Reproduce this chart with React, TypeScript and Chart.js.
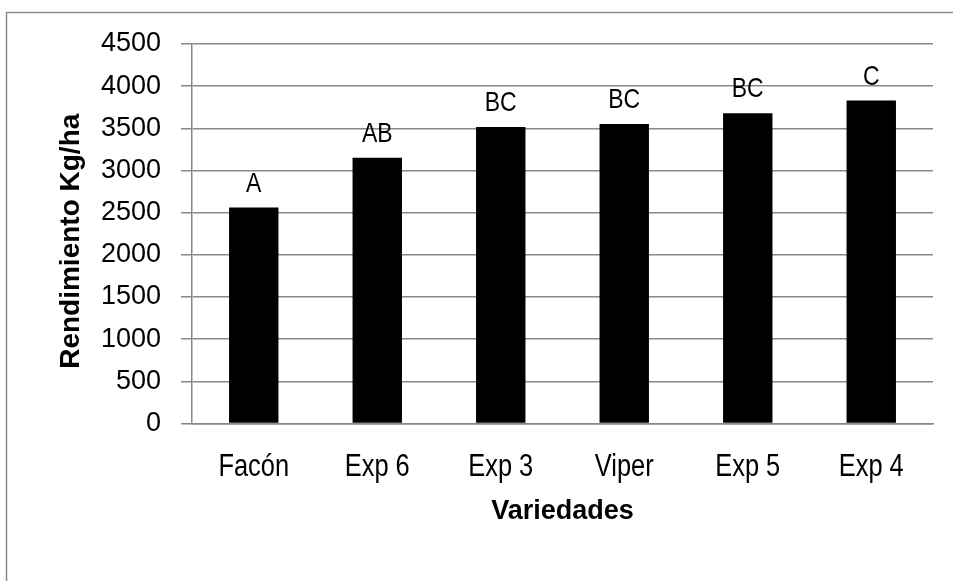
import React, { useEffect, useRef } from "react";
import { Chart, registerables } from "chart.js";

Chart.register(...registerables);

const categories = ["Facón", "Exp 6", "Exp 3", "Viper", "Exp 5", "Exp 4"];
const yields = [2560, 3150, 3515, 3550, 3680, 3830];
const letters = ["A", "AB", "BC", "BC", "BC", "C"];
const yMin = 0;
const yMax = 4500;
const yStep = 500;
const yTitle = "Rendimiento Kg/ha";
const xTitle = "Variedades";

const SANS = "'Liberation Sans', Arial, sans-serif";
const GRID = "#888888";
const NARROW_SCALE = 0.82;

function narrowText(ctx: any, text: string, x: number, y: number, size: number) {
  ctx.save();
  ctx.translate(x, y);
  ctx.scale(NARROW_SCALE, 1);
  ctx.font = `${size}px ${SANS}`;
  ctx.fillStyle = "#000";
  ctx.textAlign = "center";
  ctx.textBaseline = "alphabetic";
  ctx.fillText(text, 0, 0);
  ctx.restore();
}

const textPlugin = {
  id: "texts",
  afterDatasetsDraw(chart: any) {
    const ctx = chart.ctx;
    const meta = chart.getDatasetMeta(0);
    meta.data.forEach((bar: any, i: number) => {
      narrowText(ctx, letters[i], bar.x, bar.y - 16, 28);
    });
  },
  afterDraw(chart: any) {
    const ctx = chart.ctx;
    const xs = chart.scales.x;
    const ys = chart.scales.y;
    categories.forEach((c, i) => {
      narrowText(ctx, c, xs.getPixelForValue(i), xs.top + 52.5, 31);
    });
    ctx.save();
    ctx.translate(71.5, (ys.top + ys.bottom) / 2 + 7.5);
    ctx.rotate(-Math.PI / 2);
    ctx.font = `bold 28px ${SANS}`;
    ctx.fillStyle = "#000";
    ctx.textAlign = "center";
    ctx.textBaseline = "middle";
    ctx.fillText(yTitle, 0, 0);
    ctx.restore();
  },
};

const framePlugin = {
  id: "frame",
  beforeDraw(chart: any) {
    const ctx = chart.ctx;
    ctx.save();
    ctx.fillStyle = "#fff";
    ctx.fillRect(0, 0, chart.width, chart.height);
    ctx.strokeStyle = "#8a8a8a";
    ctx.lineWidth = 1.5;
    ctx.strokeRect(6.5, 12.5, chart.width + 20, chart.height + 20);
    ctx.restore();
  },
};

export default function App() {
  const ref = useRef<HTMLCanvasElement | null>(null);
  useEffect(() => {
    if (!ref.current) return;
    const chart = new Chart(ref.current, {
      type: "bar",
      data: {
        labels: categories,
        datasets: [
          {
            data: yields,
            backgroundColor: "#000",
            borderWidth: 0,
            barPercentage: 0.4,
            categoryPercentage: 1,
          },
        ],
      },
      options: {
        responsive: false,
        animation: false,
        devicePixelRatio: 1,
        layout: { padding: { left: 0, right: 20, top: 44, bottom: 0 } },
        plugins: {
          legend: { display: false },
          tooltip: { enabled: false },
        },
        scales: {
          x: {
            grid: { display: false, drawTicks: false },
            border: { display: true, color: GRID, width: 1.5 },
            ticks: { display: false },
            title: {
              display: true,
              text: xTitle,
              color: "#000",
              font: { family: SANS, size: 27, weight: "bold" },
              padding: { top: 0, bottom: 53 },
            },
            afterFit(scale: any) {
              scale.height = 157.5;
            },
          },
          y: {
            min: yMin,
            max: yMax,
            grid: {
              color: GRID,
              lineWidth: 1.5,
              drawTicks: true,
              tickLength: 11,
              tickColor: GRID,
            },
            border: { display: true, color: GRID, width: 1.5 },
            ticks: {
              stepSize: yStep,
              color: "#000",
              font: { family: SANS, size: 27 },
              padding: 20,
              callback: (v: any) => String(v),
            },
            title: { display: false },
            afterFit(scale: any) {
              scale.width = 192;
            },
          },
        },
      } as any,
      plugins: [framePlugin, textPlugin],
    });
    return () => chart.destroy();
  }, []);
  return (
    <div style={{ position: "fixed", left: 0, top: 0, width: 953, height: 581 }}>
      <canvas ref={ref} width={953} height={581} style={{ display: "block" }} />
    </div>
  );
}
